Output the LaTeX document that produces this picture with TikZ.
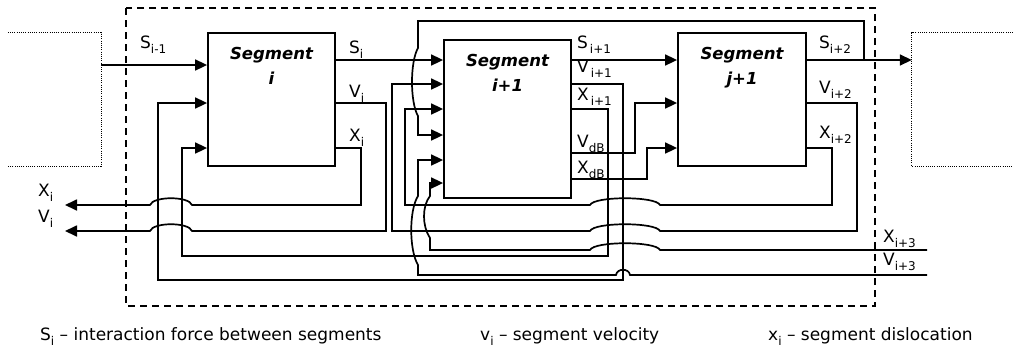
\documentclass[tikz,border=0pt]{standalone}
\usepackage{fontspec}
\setmainfont{DejaVu Sans}
\usetikzlibrary{arrows.meta, positioning}

\newcommand{\sig}[2]{#1\raisebox{-5pt}{\fontsize{12}{12}\selectfont #2}}

\tikzset{
  wire/.style={line width=1.7pt},
  feed/.style={wire, -{Triangle[length=12pt,width=11pt]}},
  segbox/.style={draw, line width=1.8pt, inner sep=0pt},
  segtxt/.style={font=\fontsize{16.5}{25}\selectfont\bfseries\itshape, align=center, inner sep=0pt, anchor=north},
  sig/.style={font=\fontsize{17}{17}\selectfont, inner sep=0pt, anchor=base west},
  legend/.style={font=\fontsize{17}{17}\selectfont, inner sep=0pt, anchor=base west},
  dotbox/.style={line width=0.9pt, dash pattern=on 1pt off 1.2pt},
  frame/.style={line width=1.8pt, dash pattern=on 7pt off 5pt},
}

\begin{document}
\begin{tikzpicture}[x=1pt, y=-1pt]
\useasboundingbox (0,0) rectangle (1013,346);

% dashed frame
\draw[frame] (126,8) rectangle (875,306);

% neighbouring segments
\node[minimum width=93pt, minimum height=133pt, inner sep=0pt] (prev) at (54.5,99.5) {};
\node[minimum width=101pt, minimum height=133pt, inner sep=0pt] (next) at (962.5,99.5) {};
\draw[dotbox] (prev.north west) -- (prev.north east) -- (prev.south east) -- (prev.south west);
\draw[dotbox] (next.north east) -- (next.north west) -- (next.south west) -- (next.south east);

% segments
\node[segbox, minimum width=127pt, minimum height=133pt] (segA) at (271.5,99.5) {};
\node[segbox, minimum width=127pt, minimum height=158pt] (segB) at (507.5,119) {};
\node[segbox, minimum width=128pt, minimum height=133pt] (segC) at (742,99.5) {};
\node[segtxt] (segAtxt) at ([yshift=-15pt]segA.north) {Segment\\i};
\node[segtxt] (segBtxt) at ([yshift=-15pt]segB.north) {Segment\\i+1};
\node[segtxt] (segCtxt) at ([yshift=-15pt]segC.north) {Segment\\j+1};

% free ends
\coordinate (outX) at (65,205);
\coordinate (outV) at (65,231);
\coordinate (inX) at (927,250);
\coordinate (inV) at (927,275);
\coordinate (tap) at (864,60);

% forces
\draw[feed] (prev.east |- 0,65) -- (segA.west |- 0,65);
\draw[feed] (segA.east |- 0,60) -- (segB.west |- 0,60);
\draw[feed] (segB.east |- 0,60) -- (segC.west |- 0,60);
\draw[feed] (segC.east |- 0,60) -- (next.west |- 0,60);
\draw[feed] (tap) -- (864,21) -- (418,21) -- (418,48)
  .. controls (410,62) and (410,102) .. (418,116) -- (418,135) -- (segB.west |- 0,135);

% outputs of segment i
\draw[feed] (segA.east |- 0,148) -- (361,148) -- (361,205) -- (192,205)
  .. controls (189,196) and (153,196) .. (150,205) -- (outX);
\draw[feed] (segA.east |- 0,103) -- (386,103) -- (386,231) -- (192,231)
  .. controls (189,222) and (153,222) .. (150,231) -- (outV);

% outputs of segment i+1
\draw[feed] (segB.east |- 0,84) -- (623,84) -- (623,280) -- (158,280) -- (158,103) -- (segA.west |- 0,103);
\draw[feed] (segB.east |- 0,109) -- (608,109) -- (608,256) -- (182,256) -- (182,148) -- (segA.west |- 0,148);
\draw[feed] (segB.east |- 0,153) -- (635,153) -- (635,103) -- (segC.west |- 0,103);
\draw[feed] (segB.east |- 0,179) -- (647,179) -- (647,148) -- (segC.west |- 0,148);

% outputs of segment j+1
\draw[feed] (segC.east |- 0,103) -- (857,103) -- (857,231) -- (660,231)
  .. controls (656,222) and (594,222) .. (590,231) -- (392,231) -- (392,84) -- (segB.west |- 0,84);
\draw[feed] (segC.east |- 0,148) -- (832,148) -- (832,205) -- (660,205)
  .. controls (656,196) and (594,196) .. (590,205) -- (405,205) -- (405,109) -- (segB.west |- 0,109);

% inputs from outside
\draw[feed] (inX) -- (660,250) .. controls (656,241) and (594,241) .. (590,250) -- (430,250) -- (430,238)
  .. controls (422,226) and (422,206) .. (430,196) -- (430,183) -- (segB.west |- 0,183);
\draw[feed] (inV) -- (630,275) .. controls (629,268) and (617,268) .. (616,275) -- (418,275) -- (418,265)
  .. controls (409,250) and (409,210) .. (418,196) -- (418,160) -- (segB.west |- 0,160);

% signal labels
\node[sig] (lSim1) at (140,48) {\sig{S}{i-1}};
\node[sig] (lSi) at (349,53) {\sig{S}{i}};
\node[sig] (lVi) at (349,97) {\sig{V}{i}};
\node[sig] (lXi) at (349,141) {\sig{X}{i}};
\node[sig] (lSi1) at (577,48) {\sig{S}{\,i+1}};
\node[sig] (lVi1) at (577,72) {\sig{V}{\,i+1}};
\node[sig] (lXi1) at (577,100) {\sig{X}{\,i+1}};
\node[sig] (lVdB) at (577,147) {\sig{V}{dB}};
\node[sig] (lXdB) at (577,173) {\sig{X}{dB}};
\node[sig] (lSi2) at (819,48) {\sig{S}{i+2}};
\node[sig] (lVi2) at (819,93) {\sig{V}{i+2}};
\node[sig] (lXi2) at (819,138) {\sig{X}{i+2}};
\node[sig] (lXi3) at (883,242) {\sig{X}{i+3}};
\node[sig] (lVi3) at (883,265) {\sig{V}{i+3}};
\node[sig] (lXout) at (38,196) {\sig{X}{i}};
\node[sig] (lVout) at (38,222) {\sig{V}{i}};

% legend
\node[legend] (legS) at (40,340) {\sig{S}{i} -- interaction force between segments};
\node[legend] (legV) at (480,340) {\sig{v}{i} -- segment velocity};
\node[legend] (legX) at (768,340) {\sig{x}{i} -- segment dislocation};
\end{tikzpicture}
\end{document}
